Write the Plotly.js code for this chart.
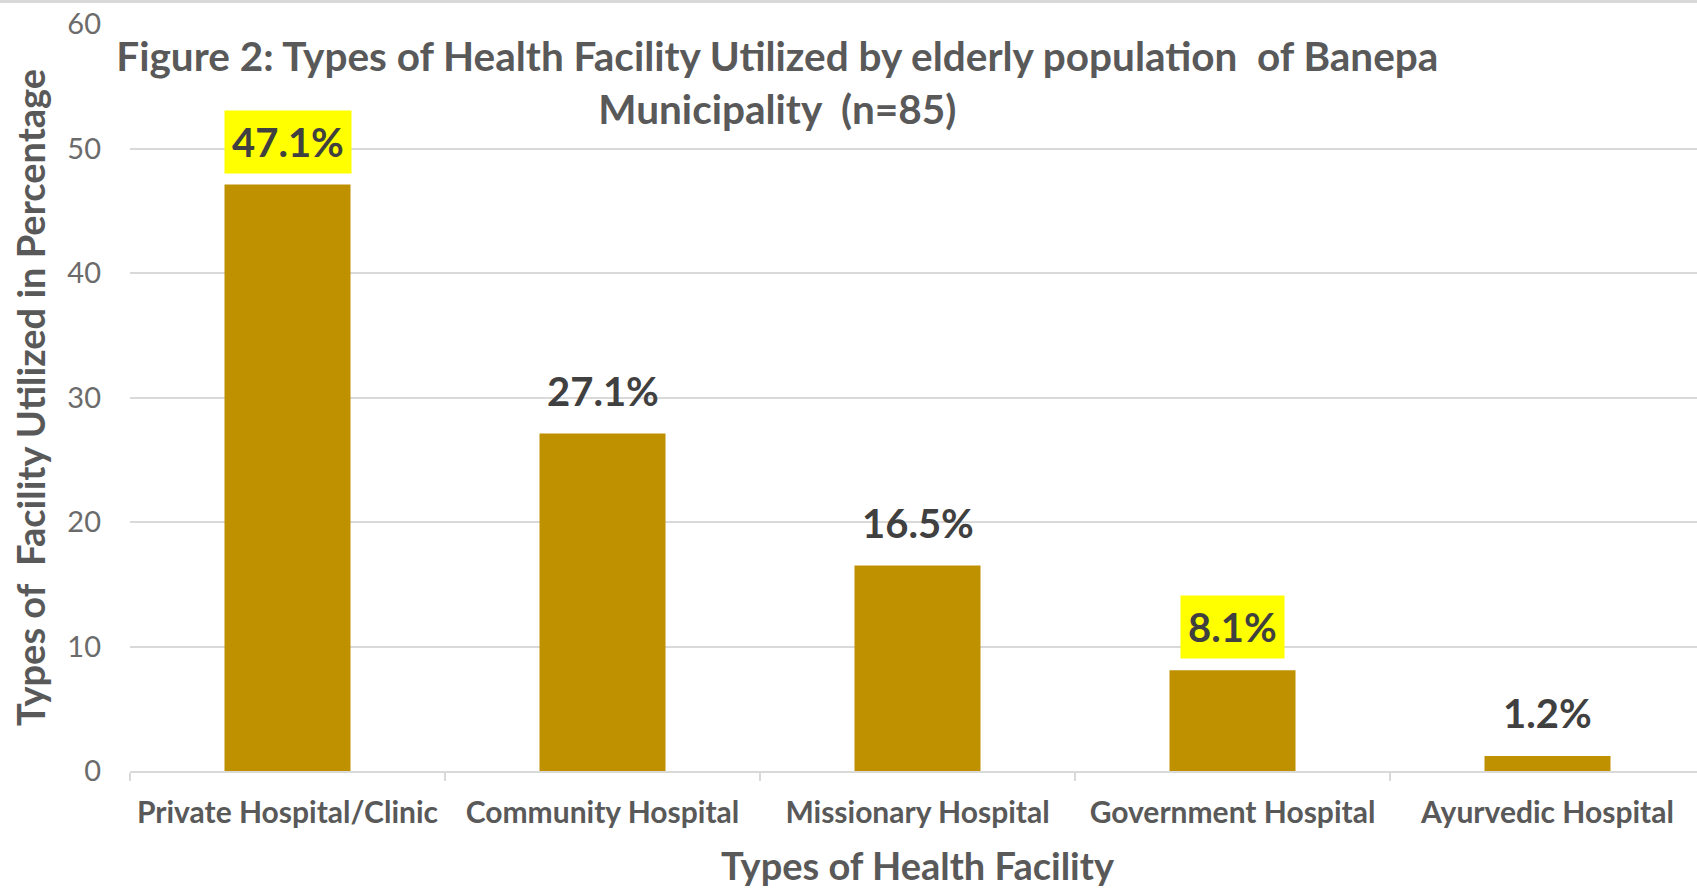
<!DOCTYPE html>
<html>
<head>
<meta charset="utf-8">
<script src="https://cdn.plot.ly/plotly-3.0.1.min.js"></script>
<style>
  html, body { margin: 0; padding: 0; background: #ffffff; overflow: hidden; }
  #topline { position: absolute; left: 0; top: 0; width: 100%; height: 3px; background: #d9d9d9; z-index: 10; }
</style>
</head>
<body>
<div id="topline"></div>
<div id="chart"></div>
<script>
const categories = ["Private Hospital/Clinic", "Community Hospital", "Missionary Hospital", "Government Hospital", "Ayurvedic Hospital"];
const values = [47.1, 27.1, 16.5, 8.1, 1.2];
const labels = ["47.1%", "27.1%", "16.5%", "8.1%", "1.2%"];
const highlighted = [true, false, false, true, false];
const yTicks = [0, 10, 20, 30, 40, 50, 60];

const FONT = "Lato, 'Open Sans', sans-serif";
const GRAY = "#595959";

const trace = {
  type: "bar",
  x: categories,
  y: values,
  marker: { color: "#BF9000" },
  hoverinfo: "x+y"
};

const annotations = categories.map((c, i) => ({
  x: c,
  y: values[i],
  xref: "x",
  yref: "y",
  text: "<b>" + labels[i] + "</b>",
  showarrow: false,
  yanchor: "bottom",
  yshift: 11,
  bgcolor: highlighted[i] ? "#FFFF00" : "rgba(0,0,0,0)",
  borderpad: 7,
  font: { family: FONT, size: 40, color: "#404040" }
}));

const layout = {
  width: 1710,
  height: 888,
  margin: { l: 130, r: 5, t: 24, b: 117 },
  paper_bgcolor: "#ffffff",
  plot_bgcolor: "#ffffff",
  bargap: 0.6,
  showlegend: false,
  title: {
    text: "<b>Figure 2: Types of Health Facility Utilized by elderly population  of Banepa<br>Municipality  (n=85)</b>",
    x: 0.411,
    xanchor: "center",
    xref: "paper",
    y: 0.92,
    yanchor: "middle",
    yref: "container",
    font: { family: FONT, size: 40.5, color: GRAY }
  },
  xaxis: {
    type: "category",
    range: [-0.5, 4.5],
    showgrid: false,
    showline: true,
    linecolor: "#d9d9d9",
    linewidth: 2,
    ticks: "outside",
    tickson: "boundaries",
    ticklen: 8,
    tickwidth: 2,
    tickcolor: "#d9d9d9",
    ticklabelstandoff: 14,
    tickfont: { family: FONT, size: 30, color: GRAY, weight: "bold" },
    title: {
      text: "<b>Types of Health Facility</b>",
      font: { family: FONT, size: 38, color: GRAY },
      standoff: 26
    },
    fixedrange: true
  },
  yaxis: {
    range: [0, 60],
    tickvals: yTicks,
    ticktext: yTicks.map(String),
    showgrid: true,
    gridcolor: "#d9d9d9",
    gridwidth: 2,
    zeroline: false,
    showline: false,
    ticks: "",
    ticklabelstandoff: 28,
    tickfont: { family: FONT, size: 29, color: "#6b6b6b" },
    title: {
      text: "<b>Types of  Facility Utilized in Percentage</b>",
      font: { family: FONT, size: 38, color: GRAY },
      standoff: 10
    },
    fixedrange: true
  },
  annotations: annotations
};

Plotly.newPlot("chart", [trace], layout, { displayModeBar: false, staticPlot: true });
</script>
</body>
</html>
